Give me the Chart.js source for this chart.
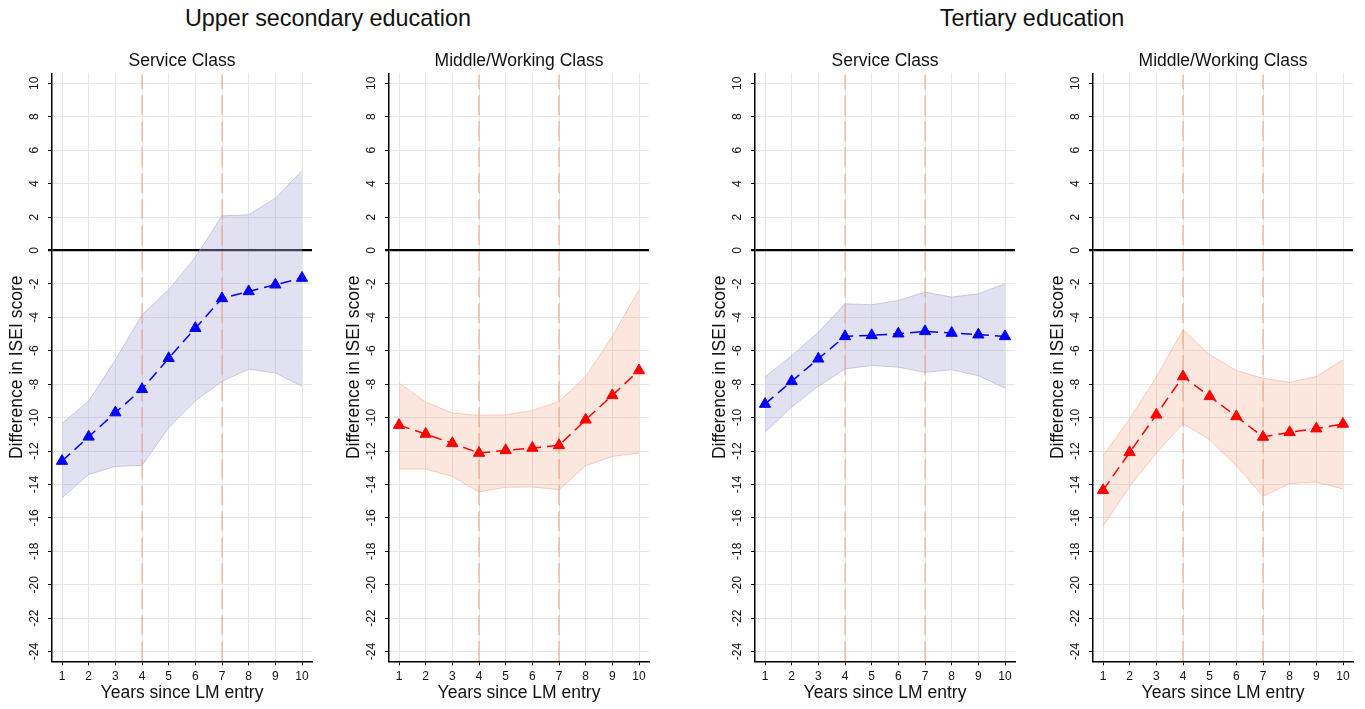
<!DOCTYPE html>
<html>
<head>
<meta charset="utf-8">
<script src="https://cdn.jsdelivr.net/npm/chart.js@4/dist/chart.umd.min.js"></script>
<style>
  html, body { margin: 0; padding: 0; background: #fff; }
  body { width: 1365px; height: 709px; position: relative; overflow: hidden;
         font-family: "Liberation Sans", Arial, Helvetica, sans-serif; color: #111; }
  .head { position: absolute; font-size: 23.4px; white-space: nowrap; transform: translate(-50%, -50%); }
  canvas { position: absolute; top: 40px; }
</style>
</head>
<body>
<div class="head" style="left:328px; top:18px;">Upper secondary education</div>
<div class="head" style="left:1032px; top:18px;">Tertiary education</div>
<canvas id="p1" width="322" height="669" style="left:0px"></canvas>
<canvas id="p2" width="322" height="669" style="left:337px"></canvas>
<canvas id="p3" width="322" height="669" style="left:703px"></canvas>
<canvas id="p4" width="322" height="669" style="left:1041px"></canvas>
<script>
// Years since labour-market entry and axis ticks
const years = [1, 2, 3, 4, 5, 6, 7, 8, 9, 10];
const yTicks = [-24, -22, -20, -18, -16, -14, -12, -10, -8, -6, -4, -2, 0, 2, 4, 6, 8, 10];
const refYears = [4, 7];

// Upper secondary education, service class: estimate and confidence band
const upSecServiceEst = [-12.6, -11.15, -9.7, -8.3, -6.45, -4.65, -2.87, -2.45, -2.05, -1.65];
const upSecServiceHi  = [-10.35, -9.0, -6.55, -3.85, -2.35, -0.4, 2.07, 2.13, 3.13, 4.77];
const upSecServiceLo  = [-14.8, -13.4, -12.92, -12.86, -10.6, -9.0, -7.83, -7.1, -7.33, -8.13];

// Upper secondary education, middle/working class
const upSecMiddleEst = [-10.45, -10.98, -11.54, -12.12, -11.96, -11.82, -11.66, -10.13, -8.67, -7.18];
const upSecMiddleHi  = [-7.93, -9.07, -9.73, -9.87, -9.83, -9.57, -9.03, -7.54, -5.14, -2.35];
const upSecMiddleLo  = [-13.08, -13.08, -13.52, -14.45, -14.17, -14.15, -14.31, -12.88, -12.32, -12.12];

// Tertiary education, service class
const tertServiceEst = [-9.19, -7.83, -6.48, -5.14, -5.08, -4.98, -4.84, -4.94, -5.04, -5.14];
const tertServiceHi  = [-7.57, -6.3, -4.9, -3.19, -3.25, -2.99, -2.49, -2.79, -2.59, -1.99];
const tertServiceLo  = [-10.88, -9.37, -8.13, -7.09, -6.88, -6.98, -7.29, -7.14, -7.49, -8.23];

// Tertiary education, middle/working class
const tertMiddleEst = [-14.35, -12.08, -9.83, -7.54, -8.73, -9.93, -11.16, -10.88, -10.66, -10.38];
const tertMiddleHi  = [-12.28, -10.07, -7.57, -4.74, -6.24, -7.18, -7.65, -7.89, -7.54, -6.54];
const tertMiddleLo  = [-16.5, -14.11, -12.12, -10.37, -11.32, -12.88, -14.71, -13.95, -13.85, -14.27];

// Axis extents
const X_MIN = 0.625, X_MAX = 10.375;
const Y_MIN = -24.58, Y_MAX = 10.6, REF_TOP = 10.5;

const FONT = '"Liberation Sans", Arial, Helvetica, sans-serif';
Chart.defaults.font.family = FONT;
Chart.defaults.color = '#111';

const blue = { line: '#0000ff', band: 'rgba(180,175,220,0.38)', edge: 'rgba(170,165,215,0.55)' };
const red  = { line: '#ff0000', band: 'rgba(245,170,140,0.28)', edge: 'rgba(245,170,140,0.55)' };
const refColor = 'rgba(236,150,110,0.6)';
const gridColor = '#e6e6e6';

function buildPanel(id, title, est, hi, lo, pal) {
  const pts = arr => years.map((x, i) => ({ x, y: arr[i] }));
  const datasets = [
    { data: pts(est), borderColor: pal.line, backgroundColor: pal.line, borderWidth: 1.5,
      borderDash: [11, 6], pointStyle: 'triangle', pointRadius: 6.5, pointBorderWidth: 1,
      pointBorderColor: pal.line, fill: false, tension: 0, order: 0 },
    ...refYears.map(v => ({
      data: [{ x: v, y: Y_MIN }, { x: v, y: REF_TOP }], borderColor: refColor, borderWidth: 1.5,
      borderDash: [20, 6], pointRadius: 0, fill: false, order: 1 })),
    { data: pts(hi), borderColor: pal.edge, borderWidth: 1, backgroundColor: pal.band,
      pointRadius: 0, fill: '+1', tension: 0, order: 2 },
    { data: pts(lo), borderColor: pal.edge, borderWidth: 1, pointRadius: 0, fill: false, tension: 0, order: 2 }
  ];
  new Chart(document.getElementById(id), {
    type: 'line',
    data: { datasets },
    options: {
      responsive: false, animation: false, devicePixelRatio: 1,
      layout: { padding: { left: 0, right: 10, top: 0, bottom: 0 } },
      plugins: {
        legend: { display: false }, tooltip: { enabled: false },
        title: { display: true, text: title, color: '#111', fullSize: false,
                 font: { size: 17.5, weight: 'normal', family: FONT },
                 padding: { top: 10.2, bottom: 2.1 } }
      },
      scales: {
        x: {
          type: 'linear', min: X_MIN, max: X_MAX,
          afterBuildTicks: s => { s.ticks = years.map(v => ({ value: v })); },
          afterFit: s => { s.height = 47.7; },
          grid: { color: gridColor, lineWidth: 1, tickColor: '#000', tickLength: 4 },
          border: { display: true, color: '#000', width: 1.5 },
          ticks: { font: { size: 12 }, color: '#111', padding: 4.5, maxRotation: 0, autoSkip: false },
          title: { display: true, text: 'Years since LM entry', color: '#111',
                   font: { size: 17.5 }, padding: { top: 0, bottom: 5.5 } }
        },
        y: {
          type: 'linear', min: Y_MIN, max: Y_MAX,
          afterBuildTicks: s => { s.ticks = yTicks.map(v => ({ value: v })); },
          afterFit: s => { s.width = 52; },
          grid: {
            color: c => (c.tick && c.tick.value === 0) ? '#000' : gridColor,
            lineWidth: c => (c.tick && c.tick.value === 0) ? 2.2 : 1,
            tickColor: '#000', tickLength: 4
          },
          border: { display: true, color: '#000', width: 1.5 },
          ticks: { font: { size: 12 }, color: '#111', padding: 4.8, minRotation: 90, maxRotation: 90,
                   crossAlign: 'center', autoSkip: false },
          title: { display: true, text: 'Difference in ISEI score', color: '#111',
                   font: { size: 17.5 }, padding: { top: 7, bottom: 0 } }
        }
      }
    }
  });
}

buildPanel('p1', 'Service Class', upSecServiceEst, upSecServiceHi, upSecServiceLo, blue);
buildPanel('p2', 'Middle/Working Class', upSecMiddleEst, upSecMiddleHi, upSecMiddleLo, red);
buildPanel('p3', 'Service Class', tertServiceEst, tertServiceHi, tertServiceLo, blue);
buildPanel('p4', 'Middle/Working Class', tertMiddleEst, tertMiddleHi, tertMiddleLo, red);
</script>
</body>
</html>
